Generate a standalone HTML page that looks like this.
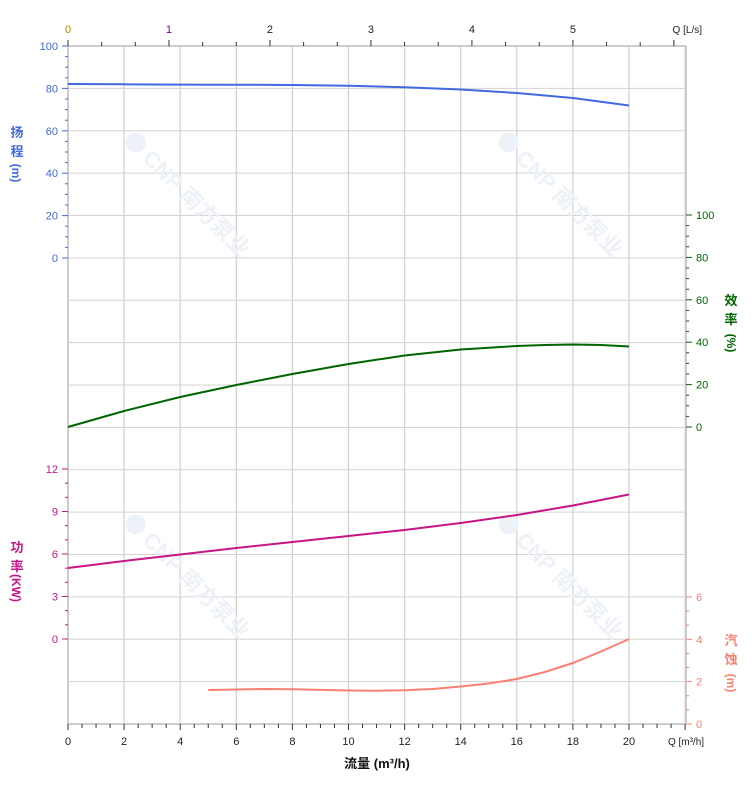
<!DOCTYPE html>
<html><head><meta charset="utf-8"><style>
html,body{margin:0;padding:0;background:#fff;}
svg{display:block;font-family:"Liberation Sans","Noto Sans CJK SC",sans-serif;}
</style></head><body>
<svg id="s" width="752" height="797" viewBox="0 0 752 797" xmlns="http://www.w3.org/2000/svg"></svg>
<script>
var s=document.getElementById('s'),h='';
var X0=68,PX=28.05,T=46,B=724,R=686,GY=42.375;
function X(q){return X0+q*PX;}
for(var i=0;i<=16;i++){var y=T+i*GY;h+='<line x1="68" x2="686" y1="'+y+'" y2="'+y+'" stroke="#d3d3d3" stroke-width="1"/>';}
for(var q=0;q<=22;q+=2){var x=X(q);h+='<line x1="'+x+'" x2="'+x+'" y1="46" y2="724" stroke="#d3d3d3" stroke-width="1.3"/>';}
h+='<line x1="68" x2="686" y1="46" y2="46" stroke="#ccc" stroke-width="2"/>';
h+='<line x1="68" x2="686" y1="724" y2="724" stroke="#ccc" stroke-width="2"/>';
h+='<line x1="68" x2="68" y1="46" y2="724" stroke="#ccc" stroke-width="2"/>';
h+='<line x1="686" x2="686" y1="46" y2="724" stroke="#ccc" stroke-width="2"/>';
for(var j=0;j<=44;j++){var q=j*0.5,x=X(q),big=(j%4==0);h+='<line x1="'+x+'" x2="'+x+'" y1="724" y2="'+(big?730:728)+'" stroke="#333" stroke-width="1"/>';
 if(big&&q<=20)h+='<text x="'+x+'" y="745" font-size="11" fill="#222" text-anchor="middle">'+q+'</text>';}
h+='<text x="686" y="745" font-size="10" fill="#222" text-anchor="middle">Q [m³/h]</text>';
h+='<text x="377" y="768" font-size="13" font-weight="bold" fill="#111" text-anchor="middle">流量 (m³/h)</text>';
for(var j=0;j<=18;j++){var l=j/3,x=X(l*3.6);if(x>687)break;var big=(j%3==0);h+='<line x1="'+x+'" x2="'+x+'" y1="46" y2="'+(big?40:42)+'" stroke="#333" stroke-width="1"/>';
 if(big&&l<=5.01)h+='<text x="'+x+'" y="33" font-size="11" fill="'+(j==0?'#c08000':j==3?'#800080':'#222')+'" text-anchor="middle">'+(j/3)+'</text>';}
h+='<text x="702" y="33" font-size="10" fill="#222" text-anchor="end">Q [L/s]</text>';
function lax(y0,y1,n,vals,col,minor){for(var i=0;i<=n;i++){var y=y0+(y1-y0)*i/n;h+='<line x1="62" x2="68" y1="'+y+'" y2="'+y+'" stroke="'+col+'"/>';h+='<text x="58" y="'+(y+4)+'" font-size="11" fill="'+col+'" text-anchor="end">'+vals[i]+'</text>';
 if(i<n)for(var k=1;k<minor;k++){var yy=y+(y1-y0)/n*k/minor;h+='<line x1="65" x2="68" y1="'+yy+'" y2="'+yy+'" stroke="'+col+'"/>';}}}
function rax(y0,y1,n,vals,col,minor){for(var i=0;i<=n;i++){var y=y0+(y1-y0)*i/n;h+='<line x1="686" x2="692" y1="'+y+'" y2="'+y+'" stroke="'+col+'"/>';h+='<text x="696" y="'+(y+4)+'" font-size="11" fill="'+col+'">'+vals[i]+'</text>';
 if(i<n)for(var k=1;k<minor;k++){var yy=y+(y1-y0)/n*k/minor;h+='<line x1="686" x2="689" y1="'+yy+'" y2="'+yy+'" stroke="'+col+'"/>';}}}
lax(46,258,5,[100,80,60,40,20,0],'#4169e1',4);
lax(469,639,4,[12,9,6,3,0],'#c71585',3);
rax(215,427,5,[100,80,60,40,20,0],'#006400',4);
rax(597,724,3,[6,4,2,0],'#fa8072',3);
function vt(x,y,chars,col){for(var i=0;i<chars.length;i++)h+='<text x="'+x+'" y="'+(y+i*19)+'" font-size="13" font-weight="bold" fill="'+col+'" text-anchor="middle">'+chars[i]+'</text>';}
vt(17,137,['扬','程'],'#4169e1');h+='<text transform="translate(12,173) rotate(90)" font-size="12" font-weight="bold" fill="#4169e1" text-anchor="middle">(m)</text>';
vt(17,552,['功','率'],'#c71585');h+='<text transform="translate(12,588) rotate(90)" font-size="12" font-weight="bold" fill="#c71585" text-anchor="middle">(KW)</text>';
vt(731,305,['效','率'],'#006400');h+='<text transform="translate(727,343) rotate(90)" font-size="12" font-weight="bold" fill="#006400" text-anchor="middle">(%)</text>';
vt(731,645,['汽','蚀'],'#fa8072');h+='<text transform="translate(727,683) rotate(90)" font-size="12" font-weight="bold" fill="#fa8072" text-anchor="middle">(m)</text>';
function wm(x,y){h+='<g transform="translate('+x+','+y+') rotate(45)" fill="#edf1f8" font-size="22" font-weight="bold"><circle cx="0" cy="-8" r="10" fill="#edf1f8"/><text x="16" y="0">CNP 南方泵业</text></g>';}
wm(130,148);wm(503,148);wm(130,530);wm(503,530);
function curve(pts,col){var d='';pts.forEach(function(p,i){d+=(i?'L':'M')+X(p[0]).toFixed(1)+','+p[1]+' ';});h+='<path d="'+d+'" fill="none" stroke="'+col+'" stroke-width="2"/>';}
curve([[0,84],[2,84.3],[4,84.6],[6,84.7],[8,85],[10,85.8],[12,87.2],[14,89.5],[16,93],[18,98],[20,105.5]],'#4169e1');
curve([[0,427],[1,419],[2,411],[4,397],[6,385],[8,374],[10,364],[12,355.5],[14,349.5],[16,346],[17,345],[18,344.5],[19,345],[20,346.5]],'#006400');
curve([[0,568],[2,561],[4,554.5],[6,548],[8,542],[10,536],[12,530],[14,523],[16,515],[18,505.5],[20,494.5]],'#c71585');
curve([[5,690],[6,689.5],[7,689],[8,689.3],[10,690.5],[11,690.7],[12,690.3],[13,689],[14,686.5],[15,683.5],[16,679],[17,672],[18,663],[19,651.5],[20,639]],'#fa8072');
s.innerHTML=h;
</script>
</body></html>
